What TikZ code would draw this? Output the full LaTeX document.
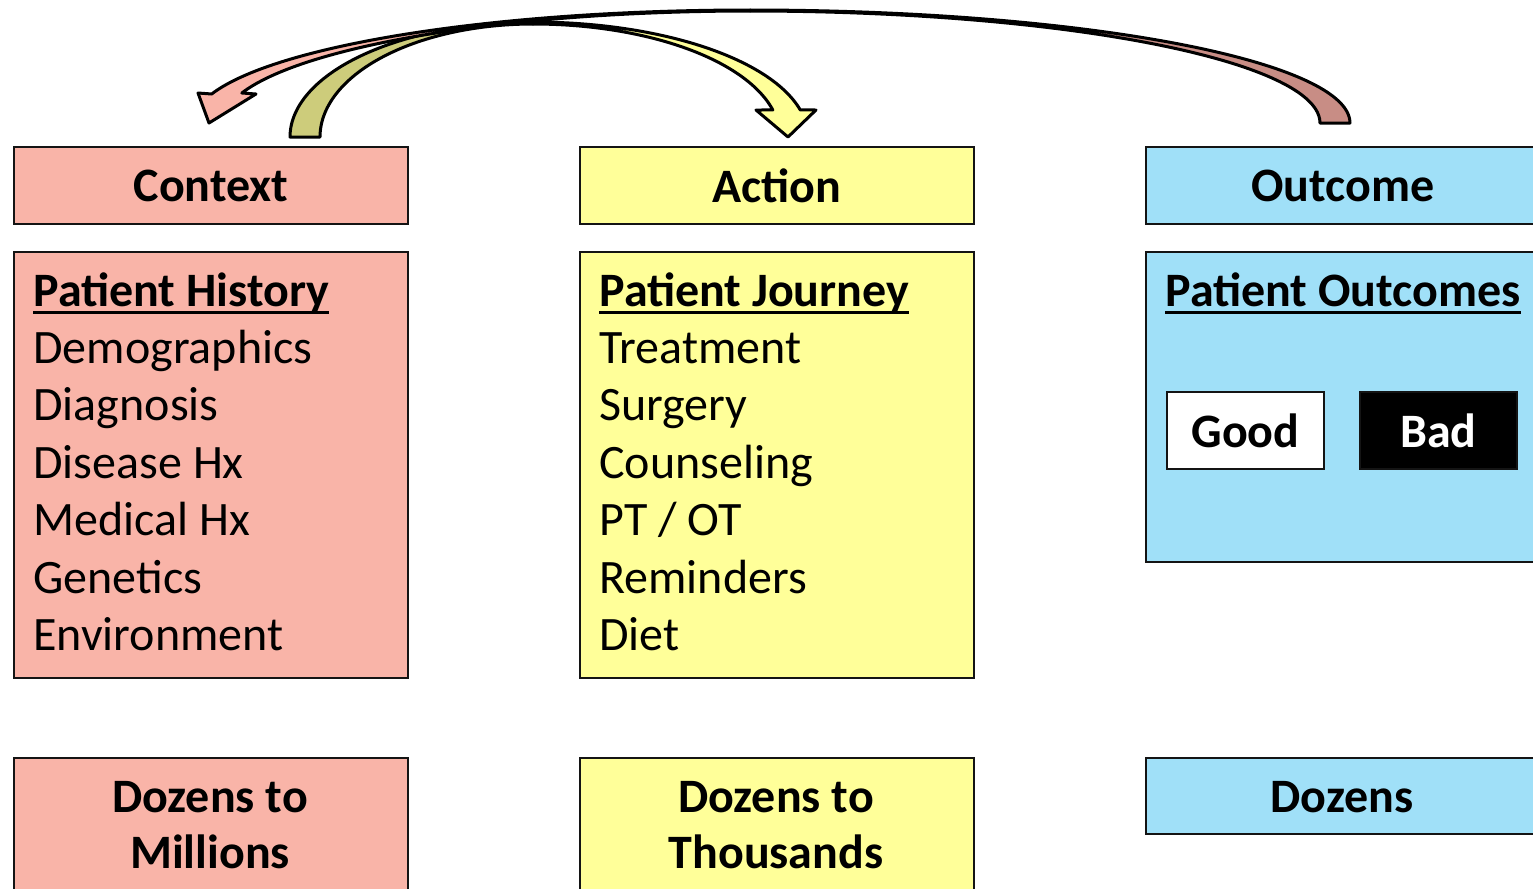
\documentclass[tikz,border=0pt]{standalone}
\usepackage{fontspec}
\setmainfont{Carlito}

\definecolor{ctxfill}{RGB}{249,180,168}
\definecolor{ctxdark}{RGB}{200,141,133}
\definecolor{actfill}{RGB}{255,255,153}
\definecolor{actdark}{RGB}{205,204,123}
\definecolor{outfill}{RGB}{160,224,248}
\definecolor{edge}{RGB}{20,20,20}

\newcommand{\boxfont}{\fontsize{24}{29}\selectfont}

\tikzset{
  box/.style={draw=edge, line width=1pt, anchor=north west, minimum width=197pt, inner sep=0pt},
  headbox/.style={box, minimum height=38.5pt, font=\boxfont\bfseries},
  choice/.style={draw=edge, line width=1pt, anchor=north west, minimum width=78.5pt, minimum height=38.5pt,
    inner sep=0pt, font=\boxfont\bfseries},
  item/.style={font=\boxfont, inner sep=0pt, anchor=base west},
  title/.style={item, font=\boxfont\bfseries},
  count/.style={font=\boxfont\bfseries, inner sep=0pt, anchor=base},
  uline/.style={line width=1.5pt},
  band/.style={draw=black, line width=1.5pt, line join=round},
}

\begin{document}
\begin{tikzpicture}[x=0.5pt, y=-0.5pt]
\useasboundingbox (0,0) rectangle (1533,889);
\clip (0,0) rectangle (1533,889);

% ---------- column headers ----------
\node[headbox, fill=ctxfill] (ctxhead) at (13,146) {Context};
\node[headbox, fill=actfill] (acthead) at (579,146) {Action};
\node[headbox, fill=outfill] (outhead) at (1145,146) {Outcome};

% ---------- detail boxes ----------
\node[box, fill=ctxfill, minimum height=213pt] (ctxbody) at (13,251) {};
\node[box, fill=actfill, minimum height=213pt] (actbody) at (579,251) {};
\node[box, fill=outfill, minimum height=155pt] (outbody) at (1145,251) {};

% context column
\node[title] (ctxtitle) at (33,306) {Patient History};
\draw[uline] ([yshift=-3pt]ctxtitle.base west) -- ([yshift=-3pt]ctxtitle.base east);
\foreach \w [count=\i] in {Demographics, Diagnosis, Disease Hx, Medical Hx, Genetics, Environment}
  \node[item] (ctx\i) at (33,{306+57.4*\i}) {\w};

% action column
\node[title] (acttitle) at (599,306) {Patient Journey};
\draw[uline] ([yshift=-3pt]acttitle.base west) -- ([yshift=-3pt]acttitle.base east);
\foreach \w [count=\i] in {Treatment, Surgery, Counseling, PT / OT, Reminders, Diet}
  \node[item] (act\i) at (599,{306+57.4*\i}) {\w};

% outcome column
\node[title] (outtitle) at (1165,306) {Patient Outcomes};
\draw[uline] ([yshift=-3pt]outtitle.base west) -- ([yshift=-3pt]outtitle.base east);
\node[choice, fill=white] (good) at (1166,391) {Good};
\node[choice, fill=black, text=white] (bad) at (1359,391) {Bad};

% ---------- volume boxes ----------
\node[box, fill=ctxfill, minimum height=80pt] (ctxvol) at (13,757) {};
\node[box, fill=actfill, minimum height=80pt] (actvol) at (579,757) {};
\node[box, fill=outfill, minimum height=38pt] (outvol) at (1145,757) {};
\node[count] (ctxq1) at (210,812) {Dozens to};
\node[count] (ctxq2) at (210,868) {Millions};
\node[count] (actq1) at (776,812) {Dozens to};
\node[count] (actq2) at (776,868) {Thousands};
\node[count] (outq1) at (1342,812) {Dozens};

% ---------- curved arrow: context -> action ----------
% underside (tail half)
\filldraw[band, fill=actdark] (290,137)
  -- plot[domain=180:90, samples=60, variable=\a] ({533+243*cos(\a)}, {137-115*sin(\a)})
  -- plot[domain=90:180, samples=60, variable=\a] ({533+213*cos(\a)}, {137-113*sin(\a)})
  -- cycle;
% upper side with head
\filldraw[band, fill=actfill]
  plot[domain=90:13.6, samples=60, variable=\a] ({533+275*cos(\a)}, {137-115*sin(\a)})
  -- (816,110) -- (788,137) -- (756,110)
  -- plot[domain=13.83:90, samples=60, variable=\a] ({533+247*cos(\a)}, {137-113*sin(\a)})
  -- cycle;

% ---------- curved arrow: outcome -> context ----------
% underside (tail half)
\filldraw[band, fill=ctxdark] (1350,123)
  -- plot[domain=0:90, samples=80, variable=\a] ({750+600*cos(\a)}, {123-113*sin(\a)})
  -- plot[domain=90:0, samples=80, variable=\a] ({750+570*cos(\a)}, {123-112*sin(\a)})
  -- cycle;
% upper side with head
\filldraw[band, fill=ctxfill]
  plot[domain=90:165.13, samples=80, variable=\a] ({750+557*cos(\a)}, {123-113*sin(\a)})
  -- (198,93) -- (209,123) -- (256,94)
  -- plot[domain=164.46:90, samples=80, variable=\a] ({750+527.5*cos(\a)}, {123-112*sin(\a)})
  -- cycle;
\end{tikzpicture}
\end{document}
